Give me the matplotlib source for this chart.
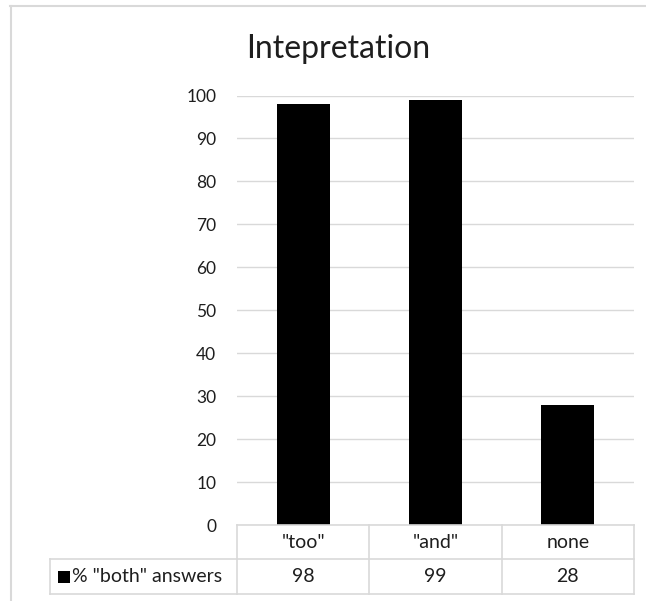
import matplotlib
matplotlib.use("Agg")
import matplotlib.pyplot as plt
from matplotlib.transforms import blended_transform_factory
from matplotlib.lines import Line2D
from matplotlib.patches import Rectangle

categories = ['"too"', '"and"', 'none']
values = [98, 99, 28]
series_name = '% "both" answers'
yticks = list(range(0, 101, 10))
title = "Intepretation"

W, H = 646, 601
plt.rcParams['font.family'] = ['Lato', 'DejaVu Sans']
fig = plt.figure(figsize=(W / 100, H / 100), dpi=100)
fig.patch.set_facecolor("white")

def fx(px):
    return px / W

def fy(py):
    return 1 - py / H

grid_c = "#d9d9d9"
text_c = "#1e1e1e"

# plot area
x0, x1 = 237, 634
ytop, ybot = 95.5, 525
ax = fig.add_axes([fx(x0), fy(ybot), fx(x1 - x0), (ybot - ytop) / H])
xs = list(range(len(categories)))
ax.bar(xs, values, width=0.4, color="black", zorder=3)
ax.set_xlim(-0.5, len(categories) - 0.5)
ax.set_ylim(0, 100)
ax.set_yticks(yticks)
ax.set_yticklabels([str(t) for t in yticks], fontsize=12.5, color=text_c)
ax.tick_params(axis="y", length=0, pad=15)
ax.tick_params(axis="x", length=0, labelbottom=False)
ax.yaxis.grid(True, color=grid_c, linewidth=1.0, zorder=0)
for s in ax.spines.values():
    s.set_visible(False)

fig.text(fx(338), fy(49), title, ha="center", va="center", fontsize=23, color=text_c)

# data table under the plot area
tr = blended_transform_factory(ax.transData, fig.transFigure)
r0, r1, r2 = fy(525), fy(559), fy(594)
edges = [i - 0.5 for i in range(len(categories) + 1)]
lw = 1.2

def line(xa, xb, ya, yb, transform):
    fig.add_artist(Line2D([xa, xb], [ya, yb], color=grid_c, lw=lw, transform=transform))

line(edges[0], edges[-1], r0, r0, tr)
line(edges[0], edges[-1], r1, r1, tr)
line(edges[0], edges[-1], r2, r2, tr)
for e in edges:
    line(e, e, r0, r2, tr)
# legend cell
line(fx(50), fx(x0), r1, r1, fig.transFigure)
line(fx(50), fx(x0), r2, r2, fig.transFigure)
line(fx(50), fx(50), r1, r2, fig.transFigure)

for i, (c, v) in enumerate(zip(categories, values)):
    fig.text(i, (r0 + r1) / 2, c, transform=tr, ha="center", va="center", fontsize=14, color=text_c)
    fig.text(i, (r1 + r2) / 2, str(v), transform=tr, ha="center", va="center", fontsize=14, color=text_c)

fig.add_artist(Rectangle((fx(58), fy(583)), fx(12), 12 / H, facecolor="black",
                         edgecolor="none", transform=fig.transFigure))
fig.text(fx(72), (r1 + r2) / 2, series_name, ha="left", va="center", fontsize=14, color=text_c)

# chart frame
fig.add_artist(Line2D([fx(10), 1], [fy(5.5), fy(5.5)], color=grid_c, lw=1.5, transform=fig.transFigure))
fig.add_artist(Line2D([fx(10.5), fx(10.5)], [fy(5.5), 0], color=grid_c, lw=1.5, transform=fig.transFigure))

fig.savefig("out.png", dpi=100, facecolor="white")
